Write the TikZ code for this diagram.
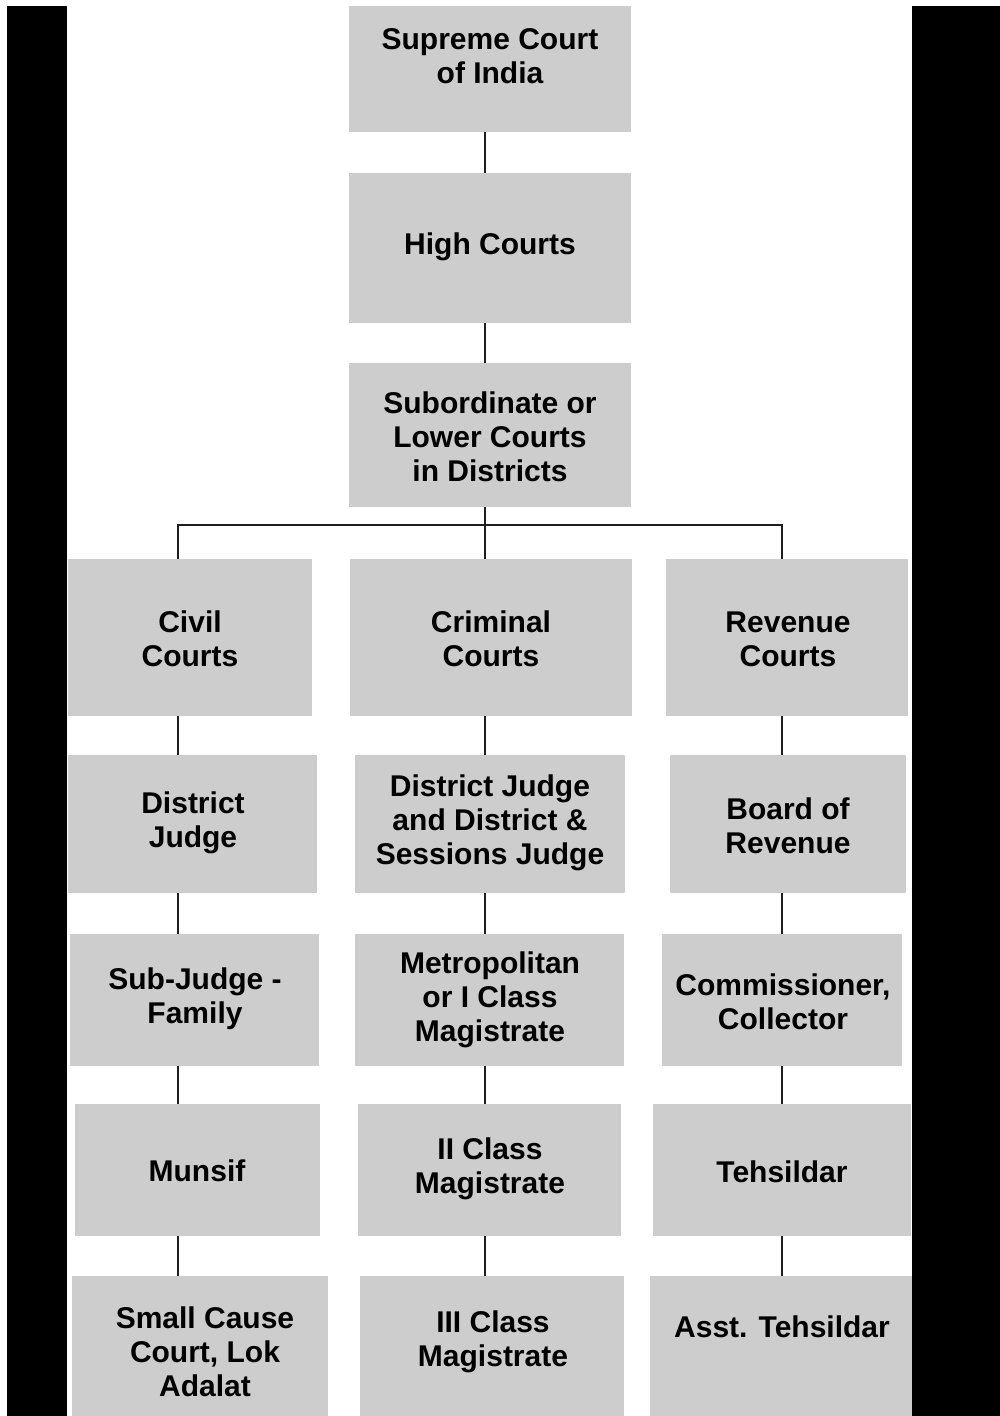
\documentclass[tikz,border=0pt]{standalone}
\usepackage{fontspec}
\setmainfont{Liberation Sans}
\definecolor{boxgray}{RGB}{205,205,205}
\definecolor{linec}{RGB}{30,30,30}
\begin{document}
\begin{tikzpicture}[x=1pt,y=-1pt,
  cbx/.style={fill=boxgray,draw=none,inner sep=0pt,outer sep=0pt},
  txt/.style={align=center,inner sep=0pt,text=black,font=\bfseries\fontsize{30}{34}\selectfont},
  conn/.style={draw=linec,line width=2pt}]
\useasboundingbox (0,0) rectangle (1000,1416);
\fill[white] (0,0) rectangle (1000,1416);
\fill[black] (7,6) rectangle (67,1416);
\fill[black] (912,6) rectangle (1000,1416);
\newcommand\cbox[8]{%
  \node[cbx,minimum width={(#4-#2)*1pt},minimum height={(#5-#3)*1pt}] (#1) at ({(#2+#4)/2},{(#3+#5)/2}) {};
  \node[txt] (#1t) at (#6,#7) {#8};}
\cbox{sc}{349}{6}{631}{132}{490}{56}{Supreme Court\\of India}
\cbox{hc}{349}{173}{631}{323}{490}{247}{High Courts}
\cbox{sub}{349}{363}{631}{507}{490}{437}{Subordinate or\\Lower Courts\\in Districts}
\cbox{civ}{68}{559}{312}{716}{190}{639}{Civil\\Courts}
\cbox{cri}{350}{559}{632}{716}{491}{639}{Criminal\\Courts}
\cbox{rev}{666}{559}{908}{716}{788}{639}{Revenue\\Courts}
\cbox{dj}{68}{755}{317}{893}{193}{823}{District\\Judge}
\cbox{dsj}{355}{755}{625}{893}{490}{823}{District Judge\\and District \&\\Sessions Judge}
\cbox{bor}{670}{755}{906}{893}{788}{826}{Board of\\Revenue}
\cbox{sj}{70}{934}{319}{1066}{195}{999}{Sub-Judge -\\Family}
\cbox{met}{355}{934}{624}{1066}{490}{1000}{Metropolitan\\or I Class\\Magistrate}
\cbox{com}{662}{934}{902}{1066}{783}{1002}{Commissioner,\\Collector}
\cbox{mun}{75}{1104}{320}{1236}{197}{1171}{Munsif}
\cbox{ii}{358}{1104}{621}{1236}{490}{1169}{II Class\\Magistrate}
\cbox{teh}{653}{1104}{911}{1236}{782}{1172}{Tehsildar}
\cbox{sca}{72}{1276}{328}{1416}{205}{1352}{Small Cause\\Court, Lok\\Adalat}
\cbox{iii}{360}{1276}{624}{1416}{493}{1342}{III Class\\Magistrate}
\cbox{ast}{650}{1276}{912}{1416}{782}{1327}{Asst. Tehsildar}
\coordinate (c1) at (178,0);
\coordinate (c2) at (485,0);
\coordinate (c3) at (782,0);
\coordinate (bus) at (485,525);
\draw[conn] (sc.south -| c2) -- (hc.north -| c2);
\draw[conn] (hc.south -| c2) -- (sub.north -| c2);
\draw[conn] (sub.south -| c2) -- (cri.north -| c2);
\draw[conn] (civ.north -| c1) |- (bus) -| (rev.north -| c3);
\draw[conn] (civ.south -| c1) -- (dj.north -| c1);
\draw[conn] (dj.south -| c1) -- (sj.north -| c1);
\draw[conn] (sj.south -| c1) -- (mun.north -| c1);
\draw[conn] (mun.south -| c1) -- (sca.north -| c1);
\draw[conn] (cri.south -| c2) -- (dsj.north -| c2);
\draw[conn] (dsj.south -| c2) -- (met.north -| c2);
\draw[conn] (met.south -| c2) -- (ii.north -| c2);
\draw[conn] (ii.south -| c2) -- (iii.north -| c2);
\draw[conn] (rev.south -| c3) -- (bor.north -| c3);
\draw[conn] (bor.south -| c3) -- (com.north -| c3);
\draw[conn] (com.south -| c3) -- (teh.north -| c3);
\draw[conn] (teh.south -| c3) -- (ast.north -| c3);
\end{tikzpicture}
\end{document}
